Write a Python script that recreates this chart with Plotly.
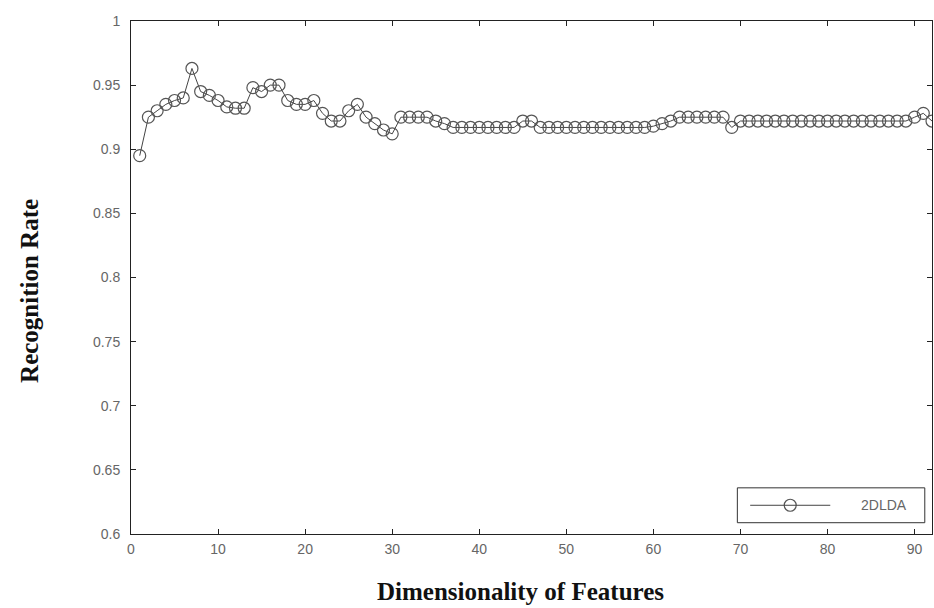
import plotly.graph_objects as go

dims = list(range(1, 93))
rate = [0.895, 0.925, 0.930, 0.935, 0.938, 0.940, 0.963, 0.945, 0.942, 0.938,
        0.933, 0.932, 0.932, 0.948, 0.945, 0.950, 0.950, 0.938, 0.935, 0.935,
        0.938, 0.928, 0.922, 0.922, 0.930, 0.935, 0.925, 0.920, 0.915, 0.912,
        0.925, 0.925, 0.925, 0.925, 0.922, 0.920, 0.917, 0.917, 0.917, 0.917,
        0.917, 0.917, 0.917, 0.917, 0.922, 0.922, 0.917, 0.917, 0.917, 0.917,
        0.917, 0.917, 0.917, 0.917, 0.917, 0.917, 0.917, 0.917, 0.917, 0.918,
        0.920, 0.922, 0.925, 0.925, 0.925, 0.925, 0.925, 0.925, 0.917, 0.922,
        0.922, 0.922, 0.922, 0.922, 0.922, 0.922, 0.922, 0.922, 0.922, 0.922,
        0.922, 0.922, 0.922, 0.922, 0.922, 0.922, 0.922, 0.922, 0.922, 0.925,
        0.928, 0.922]

y_ticks = [0.6, 0.65, 0.7, 0.75, 0.8, 0.85, 0.9, 0.95, 1.0]
y_labels = ["0.6", "0.65", "0.7", "0.75", "0.8", "0.85", "0.9", "0.95", "1"]
x_ticks = [0, 10, 20, 30, 40, 50, 60, 70, 80, 90]
x_labels = [str(v) for v in x_ticks]
series_name = "2DLDA"
x_title = "Dimensionality of Features"
y_title = "Recognition Rate"

line_col = "#444444"
mark_col = "#555555"

fig = go.Figure()
fig.add_trace(go.Scatter(
    x=dims, y=rate, mode="lines+markers", name=series_name,
    line=dict(color=line_col, width=1),
    marker=dict(symbol="circle-open", size=12, color=mark_col,
                line=dict(width=1.2, color=mark_col)),
    showlegend=False,
))

axis_common = dict(
    showline=True, linecolor="#222222", linewidth=1, mirror="ticks",
    ticks="inside", ticklen=5, tickcolor="#222222", showgrid=False,
    zeroline=False, automargin=False,
    tickfont=dict(family="Liberation Sans", size=14, color="#666666"),
)

title_font = dict(family="Liberation Serif", size=25, color="#111111")

fig.update_xaxes(range=[0, 92], tickvals=x_ticks, ticktext=x_labels,
                 ticklabelstandoff=2, **axis_common)
fig.update_yaxes(range=[0.6, 1.0], tickvals=y_ticks, ticktext=y_labels,
                 ticklabelstandoff=7, **axis_common)

# axis titles as annotations (paper coords relative to plot area)
fig.add_annotation(xref="paper", yref="paper", x=0.486, y=-0.113,
                   text="<b>" + x_title + "</b>", showarrow=False,
                   xanchor="center", yanchor="middle", font=title_font)
fig.add_annotation(xref="paper", yref="paper", x=-0.126, y=0.474,
                   text="<b>" + y_title + "</b>", showarrow=False,
                   textangle=-90, xanchor="center", yanchor="middle",
                   font=title_font)

# legend box (drawn in paper coordinates)
lx0, lx1, ly0, ly1 = 0.757, 0.991, 0.022, 0.090
ly_mid = (ly0 + ly1) / 2
fig.add_shape(type="rect", xref="paper", yref="paper", layer="below",
              x0=lx0, x1=lx1, y0=ly0, y1=ly1,
              line=dict(color="#333333", width=1), fillcolor="white")
fig.add_shape(type="line", xref="paper", yref="paper",
              x0=lx0 + 0.016, x1=lx0 + 0.116, y0=ly_mid, y1=ly_mid,
              line=dict(color=line_col, width=1))
fig.add_trace(go.Scatter(
    x=[lx0 + 0.066], y=[ly_mid], xaxis="x2", yaxis="y2", mode="markers",
    marker=dict(symbol="circle-open", size=12, color=mark_col,
                line=dict(width=1.2, color=mark_col)),
    showlegend=False, hoverinfo="skip",
))
fig.add_annotation(xref="paper", yref="paper", x=lx0 + 0.152, y=ly_mid,
                   text=series_name, showarrow=False, xanchor="left",
                   yanchor="middle",
                   font=dict(family="Liberation Sans", size=14, color="#666666"))

fig.update_layout(
    width=934, height=608,
    margin=dict(l=131, r=2, t=21, b=74),
    paper_bgcolor="white", plot_bgcolor="white",
    showlegend=False,
    xaxis2=dict(range=[0, 1], overlaying="x", visible=False),
    yaxis2=dict(range=[0, 1], overlaying="y", visible=False),
)

fig.write_html("out.html", config={"displayModeBar": False},
               post_script="document.body.style.margin='0';")
